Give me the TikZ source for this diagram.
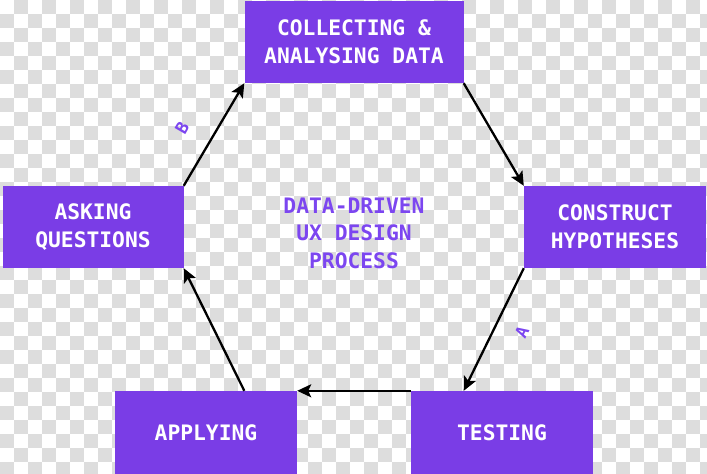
\documentclass[tikz,border=0pt]{standalone}
\usepackage{fontspec}
\newfontfamily\monof{DejaVu Sans Mono}
\usetikzlibrary{arrows.meta}
\definecolor{uxpurple}{RGB}{122,61,230}
\definecolor{uxtext}{RGB}{124,70,240}
\definecolor{checker}{RGB}{221,221,221}
\tikzset{
  stagebox/.style={fill=uxpurple, draw=none, inner sep=0pt, text=white,
    font=\monof\bfseries\fontsize{21.3}{28}\selectfont, align=center},
  flow/.style={line width=2.3pt, draw=black, -{Stealth[length=14pt,width=13pt,inset=3pt]}},
  edgelabel/.style={text=uxtext, font=\monof\bfseries\fontsize{17}{17}\selectfont, inner sep=0pt}
}
\begin{document}
\begin{tikzpicture}[x=1pt,y=-1pt]
\useasboundingbox (0,0) rectangle (707,474);
\fill[white] (0,0) rectangle (707,474);
% checkerboard background
\foreach \i in {0,...,50}{
  \pgfmathtruncatemacro\off{mod(\i,2)}
  \foreach \j in {0,...,16}{
    \fill[checker] (\i*14,{(2*\j+1-\off)*14}) rectangle +(14,14);
  }
}
% boxes
\node[stagebox, minimum width=219pt, minimum height=82pt] (collect) at (354,42) {COLLECTING \&\\ANALYSING DATA};
\node[stagebox, minimum width=182pt, minimum height=82pt] (construct) at (615,227) {CONSTRUCT\\HYPOTHESES};
\node[stagebox, minimum width=181pt, minimum height=82pt] (asking) at (93,227) {ASKING\\QUESTIONS};
\node[stagebox, minimum width=182pt, minimum height=83pt] (applying) at (206,432.5) {APPLYING};
\node[stagebox, minimum width=182pt, minimum height=83pt] (testing) at (502,432.5) {TESTING};
% centre title
\node[text=uxtext, font=\monof\bfseries\fontsize{21.3}{27.5}\selectfont, align=center] (title) at (354,233) {DATA-DRIVEN\\UX DESIGN\\PROCESS};
% connectors
\coordinate (testin) at (collect.south east |- testing.north);
\coordinate (applyout) at (collect.south west |- applying.north);
\draw[flow] (collect.south east) -- (construct.north west);
\draw[flow] (construct.south west) -- (testin);
\draw[flow] (testing.north west) -- (applying.north east);
\draw[flow] (applyout) -- (asking.south east);
\draw[flow] (asking.north east) -- (collect.south west);
% labels
\node[edgelabel, rotate=60] (labB) at (182,128) {B};
\node[edgelabel, rotate=63] (labA) at (522,332) {A};
\end{tikzpicture}
\end{document}
